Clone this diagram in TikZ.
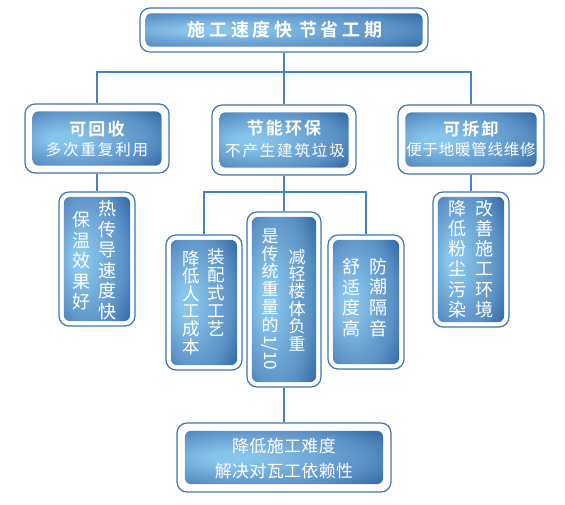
\documentclass[tikz,border=0pt]{standalone}
\usepackage{fontspec}
\setmainfont{Noto Sans CJK SC}
\newfontfamily\cjkb{Noto Sans CJK SC Bold}
\usetikzlibrary{fit}
\definecolor{gl}{HTML}{88C5EC}
\definecolor{gm}{HTML}{5A8FC4}
\definecolor{gmd}{HTML}{3A70A9}
\definecolor{gd}{HTML}{2B6098}
\definecolor{gdd}{HTML}{24568C}
\definecolor{frameblue}{HTML}{3F76AF}
\definecolor{connblue}{HTML}{4584C0}
\pgfdeclareradialshading{boxshade}{\pgfpoint{-15bp}{0bp}}{color(0bp)=(gl); color(5bp)=(gl); color(28bp)=(gm); color(36bp)=(gmd); color(42bp)=(gd); color(50bp)=(gdd)}
\newcommand\mybox[6]{%
  \node[frame, fit={(#2,#3)(#4,#5)}] (#1) {};
  \path[inbox] ([xshift=#6pt,yshift=-#6pt]#1.north west) rectangle ([xshift=-#6pt,yshift=#6pt]#1.south east);
}
\tikzset{
  frame/.style={draw=frameblue, line width=1.2pt, fill=white, rounded corners=10pt, inner sep=0pt},
  inbox/.style={shading=boxshade, rounded corners=6pt},
  conn/.style={draw=connblue, line width=2.8pt},
  wtxt/.style={text=white, inner sep=0pt, align=center},
  ttlfont/.style={font=\cjkb\fontsize{18}{20}\selectfont\addfontfeatures{LetterSpace=20}},
  hdfont/.style={font=\cjkb\fontsize{17}{20}\selectfont\addfontfeatures{LetterSpace=12}},
  subfont/.style={font=\fontsize{15.5}{20}\selectfont\addfontfeatures{LetterSpace=#1}},
  vfont/.style 2 args={font=\fontsize{#1}{#2}\selectfont},
}
\begin{document}
\begin{tikzpicture}[x=1pt,y=-1pt]
\useasboundingbox (0,0) rectangle (565,505);
\coordinate (j0) at (284,72);
\coordinate (j1) at (284,192);
% boxes
\mybox{top}{140}{8}{428}{52}{6}
\mybox{a2}{25}{104}{169}{173}{8}
\mybox{b2}{212}{105}{356}{175}{8}
\mybox{c2}{398}{105}{544}{174}{8}
\mybox{a3}{59}{192}{135}{326}{5.5}
\mybox{b3l}{166}{235}{242}{370}{5.5}
\mybox{b3m}{247}{212}{321}{387}{5.5}
\mybox{b3r}{328}{235}{404}{369}{5.5}
\mybox{c3}{433}{192}{509}{327}{5.5}
\mybox{d}{177}{423}{391}{492}{8.5}
% connector lines
\draw[conn] (top.south) -- (j0);
\draw[conn] (a2.north) |- (j0) -| (c2.north);
\draw[conn] (j0) -- (b2.north);
\draw[conn] (a2.south) -- (a3.north);
\draw[conn] (c2.south) -- (c3.north);
\draw[conn] (b2.south) -- (b3m.north);
\draw[conn] (b3l.north) |- (j1) -| (b3r.north);
\draw[conn] (b3m.south) -- (d.north);
% texts
\node[wtxt, ttlfont] (ttl) at (285,30) {施工速度快\hspace{7pt}节省工期};
\node[wtxt, hdfont] (a2t) at (97,129.5) {可回收};
\node[wtxt, subfont=12] (a2s) at (97,150) {多次重复利用};
\node[wtxt, hdfont] (b2t) at (284,128) {节能环保};
\node[wtxt, subfont=12] (b2s) at (285,150.5) {不产生建筑垃圾};
\node[wtxt, hdfont] (c2t) at (471,129) {可拆卸};
\node[wtxt, subfont=5] (c2s) at (471,150) {便于地暖管线维修};
% vertical columns
\node[wtxt, vfont={18}{20.5}] (a3r) at (107,260) {热\\传\\导\\速\\度\\快};
\node[wtxt, vfont={18}{20.5}] (a3l) at (81,261) {保\\温\\效\\果\\好};
\node[wtxt, vfont={17.5}{18}] (b3lr) at (216,292.5) {装\\配\\式\\工\\艺};
\node[wtxt, vfont={17.5}{17.6}] (b3ll) at (191,302.5) {降\\低\\人\\工\\成\\本};
\node[wtxt, vfont={17}{17.8}] (b3ml) at (270,280.5) {是\\传\\统\\重\\量\\的};
\node[wtxt, font=\fontsize{17}{20}\selectfont, rotate=-90, anchor=west] (b3mn) at (270,335) {1/10};
\node[wtxt, vfont={17}{17.4}] (b3mr) at (297,300) {减\\轻\\楼\\体\\负\\重};
\node[wtxt, vfont={18}{20.7}] (b3rr) at (378,297.5) {防\\潮\\隔\\音};
\node[wtxt, vfont={18}{20.7}] (b3rl) at (351,297.5) {舒\\适\\度\\高};
\node[wtxt, vfont={18}{20.2}] (c3r) at (484,259) {改\\善\\施\\工\\环\\境};
\node[wtxt, vfont={18}{20.2}] (c3l) at (457,259) {降\\低\\粉\\尘\\污\\染};
\node[wtxt, font=\fontsize{17}{20}\selectfont\addfontfeatures{LetterSpace=2}] (d1) at (284,446) {降低施工难度};
\node[wtxt, font=\fontsize{17}{20}\selectfont\addfontfeatures{LetterSpace=2}] (d2) at (284,471.5) {解决对瓦工依赖性};
\end{tikzpicture}
\end{document}
